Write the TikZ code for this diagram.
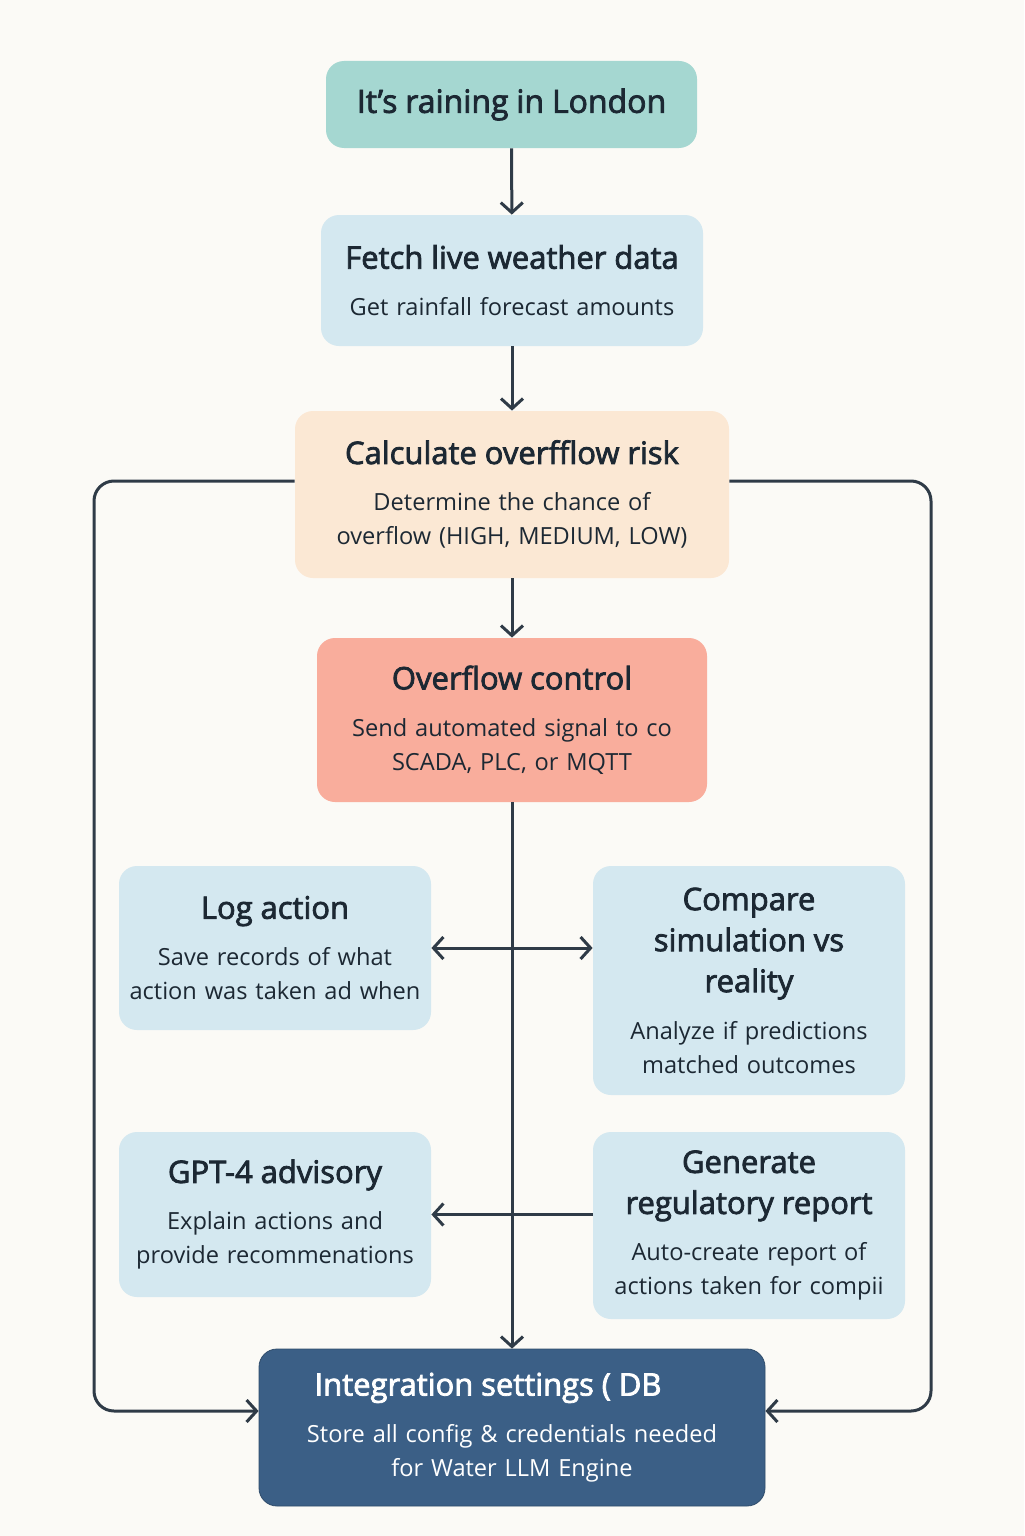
\documentclass[tikz,border=0pt]{standalone}
\usepackage{fontspec}
\setmainfont{Open Sans}
\newfontfamily\headfont{Open Sans}[FakeBold=2.5]
\usetikzlibrary{arrows.meta}
\definecolor{bgcol}{HTML}{FBFAF6}
\definecolor{linecol}{HTML}{2F3B47}
\definecolor{txtcol}{HTML}{1C2833}
\definecolor{tealfill}{HTML}{A5D7D1}
\definecolor{bluefill}{HTML}{D4E8F0}
\definecolor{peachfill}{HTML}{FBE8D4}
\definecolor{redfill}{HTML}{F9AD9C}
\definecolor{navyfill}{HTML}{3B5F86}
\newcommand{\boxhead}[1]{{\headfont\fontsize{15.5}{20.5}\selectfont #1\par}\vspace{6.5pt}}
\tikzset{
  box/.style={rounded corners=9pt, align=center, inner sep=0pt, text=txtcol,
    font=\fontsize{11.8}{17}\selectfont},
  boxsize/.style 2 args={minimum width=#1, text width=#1, minimum height=#2},
  flow/.style={draw=linecol, line width=1.5pt, -{Straight Barb[length=5pt,width=11pt]}},
}
\begin{document}
\begin{tikzpicture}[x=0.5pt,y=-0.5pt]
\fill[bgcol] (0,0) rectangle (1024,1536);
\useasboundingbox (0,0) rectangle (1024,1536);
\node[box, fill=tealfill, boxsize={185.5pt}{43.5pt}] (rain) at (511.5,104.5)
  {{\headfont\fontsize{16}{20.5}\selectfont It’s raining in London}};
\node[box, fill=bluefill, boxsize={191pt}{65.5pt}] (fetch) at (512,280.5)
  {\boxhead{Fetch live weather data}Get rainfall forecast amounts};
\node[box, fill=peachfill, boxsize={217pt}{83.5pt}] (calc) at (512,494.5)
  {\boxhead{Calculate overfflow risk}Determine the chance of\\overflow (HIGH, MEDIUM, LOW)};
\node[box, fill=redfill, boxsize={195pt}{82pt}] (ctrl) at (512,720)
  {\boxhead{Overflow control}Send automated signal to co\\SCADA, PLC, or MQTT};
\node[box, fill=bluefill, boxsize={156pt}{82pt}] (log) at (275,948)
  {\boxhead{Log action}Save records of what\\action was taken ad when};
\node[box, fill=bluefill, boxsize={156pt}{114.5pt}] (cmp) at (749,980.5)
  {\boxhead{Compare\\simulation vs\\reality}Analyze if predictions\\matched outcomes};
\node[box, fill=bluefill, boxsize={156pt}{82.5pt}] (gpt) at (275,1214.5)
  {\boxhead{GPT-4 advisory}Explain actions and\\provide recommenations};
\node[box, fill=bluefill, boxsize={156pt}{93.5pt}] (gen) at (749,1225.5)
  {\boxhead{Generate\\regulatory report}Auto-create report of\\actions taken for compii};
\node[box, fill=navyfill, draw=navyfill!80!black, text=white, boxsize={253pt}{78.5pt}] (integ) at (512,1427.5)
  {\boxhead{Integration settings ( DB\hspace*{24pt}}Store all config \& credentials needed\\for Water LLM Engine};
\draw[flow] (rain) -- (fetch);
\draw[flow] (fetch) -- (calc);
\draw[flow] (calc) -- (ctrl);
\draw[flow] (ctrl) -- (integ);
\draw[flow, {Straight Barb[length=5pt,width=11pt]}-{Straight Barb[length=5pt,width=11pt]}] (log.east) -- (log.east -| cmp.west);
\draw[flow] (gpt.east -| gen.west) -- (gpt.east);
\draw[flow, rounded corners=10pt] ([yshift=6.75pt]calc.west) -| (94,1411) -- ([yshift=8.25pt]integ.west);
\draw[flow, rounded corners=10pt] ([yshift=6.75pt]calc.east) -| (931,1411) -- ([yshift=8.25pt]integ.east);
\end{tikzpicture}
\end{document}
